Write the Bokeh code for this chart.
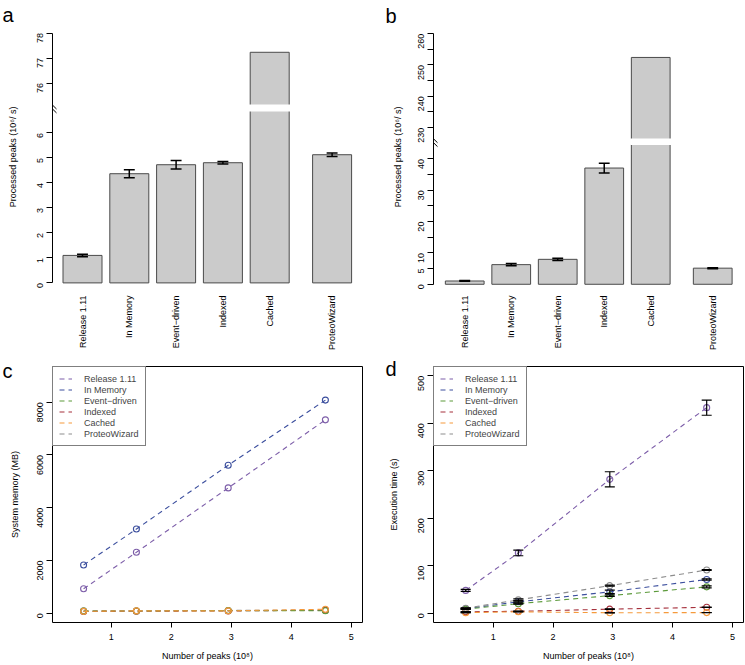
import math
from bokeh.plotting import figure
from bokeh.models import Range1d, FixedTicker, Legend, LegendItem
from bokeh.layouts import row, column
from bokeh.embed import file_html
from bokeh.resources import INLINE

FONT = "Liberation Sans"
FS = "9px"

# ---------------- data ----------------
methods = ["Release 1.11", "In Memory", "Event\u2212driven", "Indexed", "Cached", "ProteoWizard"]
method_colors = ["#7d5ea9", "#3c4f9e", "#5c9a3b", "#a6313d", "#f59a3c", "#8d8d8d"]
bar_space = [0.2, 0.2, 0.2, 0.2, 0.2, 0.6]

# panel a: processed peaks (10^6 / s)
rate_a = [1.10, 4.37, 4.73, 4.81, 77.23, 5.13]
rate_a_err = [0.05, 0.16, 0.17, 0.05, 0.0, 0.07]
a_ticks_low = [0, 1, 2, 3, 4, 5, 6]
a_ticks_high = [76, 77, 78]

# panel b: processed peaks (10^6 / s)
rate_b = [1.05, 6.27, 7.96, 37.1, 252.4, 5.14]
rate_b_err = [0.12, 0.35, 0.35, 1.55, 0.0, 0.15]
b_ticks_low = [0, 5, 10, 15, 20, 25, 30, 35, 40]
b_ticks_high = [230, 235, 240, 245, 250, 255, 260]
b_ticks_unlabelled = [15, 25, 35, 235, 245, 255]

# panels c, d: number of peaks (10^8)
peaks = [0.54, 1.42, 2.95, 4.57]
x_ticks = [1, 2, 3, 4, 5]

mem_release = [925, 2310, 4750, 7330]
mem_in_memory = [1830, 3190, 5610, 8080]
mem_event = [80, 85, 100, 95]
mem_indexed = [65, 75, 85, 115]
mem_cached = [70, 90, 90, 150]
mem_proteowizard = [95, 95, 105, 110]
c_yticks = [0, 2000, 4000, 6000, 8000]

time_release = [48, 127, 282, 433]
time_release_err = [2, 6, 16, 16]
time_in_memory = [9.5, 24, 45, 71]
time_in_memory_err = [1.0, 2.0, 3.5, 1.5]
time_event = [8.5, 20, 37, 55.5]
time_event_err = [0.6, 1.0, 1.5, 2.0]
time_indexed = [3.0, 4.0, 8.5, 12.5]
time_indexed_err = [0.3, 0.3, 0.5, 0.5]
time_cached = [1.2, 3.0, 0.9, 1.3]
time_cached_err = [0.2, 0.4, 0.2, 0.2]
time_proteowizard = [10.5, 28, 58, 91]
time_proteowizard_err = [1.0, 2.0, 1.0, 1.0]
d_yticks = [0, 100, 200, 300, 400, 500]

BAR_FILL = "#cbcbcb"
BAR_EDGE = "#4a4a4a"


def bar_centers(space, width=1.0):
    xs, pos = [], 0.0
    for s in space:
        pos += s * width
        xs.append(round(pos + width / 2, 3))
        pos += width
    return xs


def style_axis(ax):
    ax.major_label_text_font = FONT
    ax.major_label_text_font_size = FS
    ax.major_label_text_color = "black"
    ax.axis_label_text_font = FONT
    ax.axis_label_text_font_size = FS
    ax.axis_label_text_font_style = "normal"
    ax.axis_label_text_color = "black"
    ax.minor_tick_line_color = None
    ax.major_tick_line_color = "black"
    ax.major_tick_in = 0
    ax.axis_line_color = "black"


def make_fig(fx, fy, w, h, L, R, T, B, xref_px, xref_val, x_ppu, y0_px, y_ppu,
             letter, letter_x, letter_base):
    X = lambda px: xref_val + (px - xref_px) / x_ppu
    Y = lambda py: (y0_px - py) / y_ppu
    p = figure(width=w, height=h, output_backend="svg", toolbar_location=None,
               title=letter,
               x_range=Range1d(X(L), X(R)), y_range=Range1d(Y(B), Y(T)),
               min_border_left=L - fx, min_border_right=fx + w - R,
               min_border_top=T - fy, min_border_bottom=fy + h - B)
    p.xgrid.visible = False
    p.ygrid.visible = False
    p.background_fill_color = "white"
    p.border_fill_color = "white"
    for ax in p.axis:
        style_axis(ax)
    # panel letter, placed through the title's offset / standoff
    t = p.title
    t.text_font = FONT
    t.text_font_size = "20px"
    t.text_font_style = "normal"
    t.text_color = "black"
    t.align = "left"
    t.vertical_align = "bottom"
    t.offset = letter_x - L
    t.standoff = int(round(-2 * ((letter_base + 4.2) - T)))
    return p, X, Y


def bar_panel(vals, errs, ticks_low, ticks_high, unlabelled, shift, gap_lo, gap_size,
              ylabel, label_standoff, geo):
    p, X, Y = make_fig(*geo)
    L = geo[4]
    y0, y1 = p.y_range.start, p.y_range.end
    one_px = Y(0) - Y(1)
    p.extra_y_ranges = {"upper": Range1d(y0 + shift, y1 + shift)}
    gap_hi = gap_lo + gap_size + shift
    centers = bar_centers(bar_space)

    low_x, low_top, up_x, up_bot, up_top = [], [], [], [], []
    for c, v in zip(centers, vals):
        if v > gap_lo:
            low_x.append(c); low_top.append(gap_lo)
            up_x.append(c); up_bot.append(gap_hi); up_top.append(v)
        else:
            low_x.append(c); low_top.append(v)
    p.vbar(x=low_x, top=low_top, bottom=0, width=1.0, fill_color=BAR_FILL,
           line_color=BAR_EDGE, line_width=1)
    if up_x:
        p.vbar(x=up_x, top=up_top, bottom=up_bot, width=1.0, fill_color=BAR_FILL,
               line_color=BAR_EDGE, line_width=1, y_range_name="upper")
        p.quad(left=[c - 0.53 for c in up_x], right=[c + 0.53 for c in up_x],
               bottom=gap_lo - one_px, top=gap_lo + gap_size + one_px,
               fill_color="white", line_color=None)

    cap = 0.14
    for rng, sel in (("default", lambda v: v <= gap_lo), ("upper", lambda v: v > gap_lo)):
        ex, elo, ehi = [], [], []
        for c, v, e in zip(centers, vals, errs):
            if e > 0 and sel(v):
                ex.append(c); elo.append(v - e); ehi.append(v + e)
        if not ex:
            continue
        p.segment(x0=ex, y0=elo, x1=ex, y1=ehi, line_color="black", line_width=1.5, y_range_name=rng)
        p.segment(x0=[x - cap for x in ex], y0=elo, x1=[x + cap for x in ex], y1=elo,
                  line_color="black", line_width=1.5, y_range_name=rng)
        p.segment(x0=[x - cap for x in ex], y0=ehi, x1=[x + cap for x in ex], y1=ehi,
                  line_color="black", line_width=1.5, y_range_name=rng)

    # axis break: white gap on the axis line and two slanted strokes
    ymid = gap_lo + gap_size / 2
    p.quad(left=[X(L - 3)], right=[X(L + 1.5)], bottom=[ymid - 3 * one_px], top=[ymid + 3 * one_px],
           fill_color="white", line_color=None)
    p.segment(x0=[X(L), X(L)], y0=[ymid - 1 * one_px, ymid + 3 * one_px],
              x1=[X(L + 4), X(L + 4)], y1=[ymid - 5 * one_px, ymid - 1 * one_px],
              line_color="black", line_width=1)

    yax = p.yaxis[0]
    high_pos = [t - shift for t in ticks_high]
    yax.ticker = FixedTicker(ticks=ticks_low + high_pos)
    overrides = {t - shift: str(t) for t in ticks_high}
    for t in unlabelled:
        overrides[t if t <= gap_lo else t - shift] = ""
    yax.major_label_overrides = overrides
    yax.bounds = (0, ticks_high[-1] - shift)
    yax.major_label_orientation = math.pi / 2
    yax.major_tick_out = 6
    yax.major_label_standoff = 6
    yax.axis_label = ylabel
    yax.axis_label_standoff = label_standoff

    xax = p.xaxis[0]
    xax.ticker = FixedTicker(ticks=centers)
    xax.major_label_overrides = {c: m for c, m in zip(centers, methods)}
    xax.major_label_orientation = math.pi / 2
    xax.axis_line_color = None
    xax.major_tick_line_color = None
    xax.major_tick_out = 0
    xax.major_label_standoff = 8

    p.outline_line_color = None
    return p


def line_panel(series, errors, draw_order, yticks, ylabel, label_standoff, geo):
    p, X, Y = make_fig(*geo)
    line_r = {}
    for i in draw_order:
        col, ys = method_colors[i], series[i]
        line_r[i] = p.line(peaks, ys, line_color=col, line_dash="5 4", line_width=1.1)
        p.scatter(peaks, ys, marker="circle", size=6, fill_color=None, line_color=col, line_width=1.1)
    items = [LegendItem(label=methods[i], renderers=[line_r[i]]) for i in range(len(methods))]
    if errors:
        cap = 5.0 / 59.8
        ex, elo, ehi = [], [], []
        for ys, es in zip(series, errors):
            for x, y, e in zip(peaks, ys, es):
                ex.append(x); elo.append(y - e); ehi.append(y + e)
        p.segment(x0=ex, y0=elo, x1=ex, y1=ehi, line_color="black", line_width=1.2)
        p.segment(x0=[x - cap for x in ex], y0=elo, x1=[x + cap for x in ex], y1=elo,
                  line_color="black", line_width=1.2)
        p.segment(x0=[x - cap for x in ex], y0=ehi, x1=[x + cap for x in ex], y1=ehi,
                  line_color="black", line_width=1.2)

    legend = Legend(items=items, location="top_left")
    legend.margin = 0
    legend.padding = 6
    legend.spacing = 0
    legend.glyph_width = 13
    legend.glyph_height = 11
    legend.label_height = 11
    legend.label_standoff = 12
    legend.label_text_font = FONT
    legend.label_text_font_size = FS
    legend.border_line_color = "black"
    legend.border_line_width = 1
    legend.background_fill_color = "white"
    legend.background_fill_alpha = 1.0
    p.add_layout(legend)

    yax = p.yaxis[0]
    yax.ticker = FixedTicker(ticks=yticks)
    yax.major_label_orientation = math.pi / 2
    yax.major_tick_out = 6
    yax.major_label_standoff = 6
    yax.axis_label = ylabel
    yax.axis_label_standoff = label_standoff
    yax.axis_line_color = None

    xax = p.xaxis[0]
    xax.ticker = FixedTicker(ticks=x_ticks)
    xax.major_tick_out = 5
    xax.major_label_standoff = 6
    xax.axis_label = "Number of peaks (10\u2078)"
    xax.axis_label_standoff = 8
    xax.axis_line_color = None

    p.outline_line_color = "black"
    p.outline_line_width = 1
    return p


# geometry (page pixels): figure origin/size, frame edges, scale anchors, letter position
geo_a = (0, 0, 372, 358, 52, 360, 20, 287, 54.7, 0.0, 39.0, 282.3, 25.56, "a", 2, 15)
geo_b = (372, 0, 372, 358, 433, 741, 20, 287, 437.1, 0.0, 38.75, 283.7, 3.205, "b", 385, 16)
geo_c = (0, 358, 372, 306, 52, 362, 366, 622, 110.7, 1.0, 60.0, 612.7, 0.026375, "c", 2, 377)
geo_d = (372, 358, 372, 306, 433, 743, 366, 622, 492.7, 1.0, 59.8, 612.7, 0.4747, "d", 385, 375)

ylab_rate = "Processed peaks (10\u2076/ s)"

pa = bar_panel(rate_a, rate_a_err, a_ticks_low, a_ticks_high, [], 68, 6.9, 0.2, ylab_rate, 14, geo_a)
pb = bar_panel(rate_b, rate_b_err, b_ticks_low, b_ticks_high, b_ticks_unlabelled, 180, 44.8, 1.4,
               ylab_rate, 10, geo_b)

pc = line_panel([mem_release, mem_in_memory, mem_event, mem_indexed, mem_cached, mem_proteowizard],
                None, [0, 1, 5, 3, 2, 4], c_yticks, "System memory (MB)", 12, geo_c)
pd = line_panel([time_release, time_in_memory, time_event, time_indexed, time_cached, time_proteowizard],
                [time_release_err, time_in_memory_err, time_event_err, time_indexed_err,
                 time_cached_err, time_proteowizard_err],
                [0, 1, 2, 3, 4, 5], d_yticks, "Execution time (s)", 14, geo_d)

layout = column(row(pa, pb, spacing=0), row(pc, pd, spacing=0), spacing=0)
open("out.html", "w").write(file_html(layout, INLINE, title="Performance"))
